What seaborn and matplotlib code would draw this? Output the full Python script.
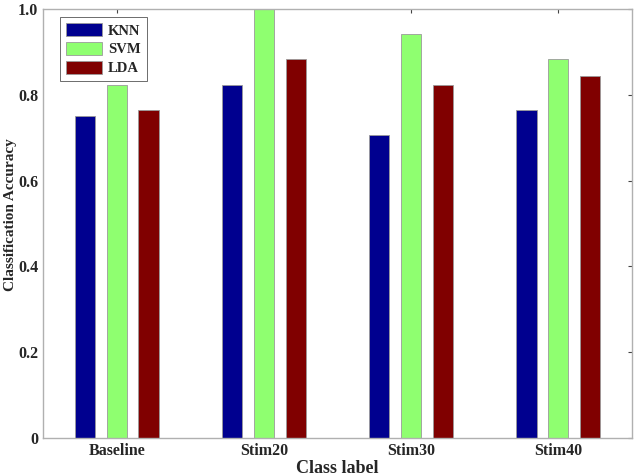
import matplotlib
matplotlib.use("Agg")
import matplotlib.pyplot as plt
import seaborn as sns
import pandas as pd

classes = ["Baseline", "Stim20", "Stim30", "Stim40"]
methods = ["KNN", "SVM", "LDA"]
knn = [0.75, 0.8235, 0.7059, 0.7647]
svm = [0.8235, 1.0, 0.9412, 0.8824]
lda = [0.7647, 0.8824, 0.8235, 0.8431]
colors = ["#00008F", "#8FFF70", "#800000"]

df = pd.DataFrame({
    "cls": classes * 3,
    "method": ["KNN"] * 4 + ["SVM"] * 4 + ["LDA"] * 4,
    "acc": knn + svm + lda,
})

sns.set_style("white")
plt.rcParams["font.family"] = ["Liberation Serif", "DejaVu Serif"]
plt.rcParams["font.weight"] = "bold"

fig = plt.figure(figsize=(6.38, 4.76), dpi=100)
ax = fig.add_axes([0.0674, 0.0798, 0.9232, 0.9013])
sns.barplot(data=df, x="cls", y="acc", hue="method", hue_order=methods,
            palette=colors, width=0.65, gap=0.37, ax=ax,
            edgecolor="#9a9a9a", linewidth=0.6, saturation=1)

ax.set_ylim(0, 1.0)
ax.set_xlim(-0.5, 3.5)
ax.set_yticks([0, 0.2, 0.4, 0.6, 0.8, 1.0])
ax.set_yticklabels(["0", "0.2", "0.4", "0.6", "0.8", "1.0"])
ax.tick_params(direction="in", length=3, top=True, right=True,
               labelsize=11.5, color="#444444")
for t in ax.get_xticklabels() + ax.get_yticklabels():
    t.set_fontweight("bold")
for s in ax.spines.values():
    s.set_color("#b0b0b0")
    s.set_linewidth(1.0)

ax.set_xlabel("Class label", fontsize=13, fontweight="bold", labelpad=1)
ax.set_ylabel("Classification Accuracy", fontsize=11, fontweight="bold")
ax.yaxis.set_label_coords(-0.044, 0.52)

leg = ax.legend(loc="upper left", bbox_to_anchor=(0.029, 0.981), fontsize=10.5,
                handlelength=2.5, handleheight=1.0, fancybox=False,
                edgecolor="#555555", framealpha=1, borderpad=0.4,
                borderaxespad=0, labelspacing=0.3, handletextpad=0.4,
                title=None)
leg.get_frame().set_linewidth(0.6)
for t in leg.get_texts():
    t.set_fontweight("bold")

fig.savefig("out.png", dpi=100)
